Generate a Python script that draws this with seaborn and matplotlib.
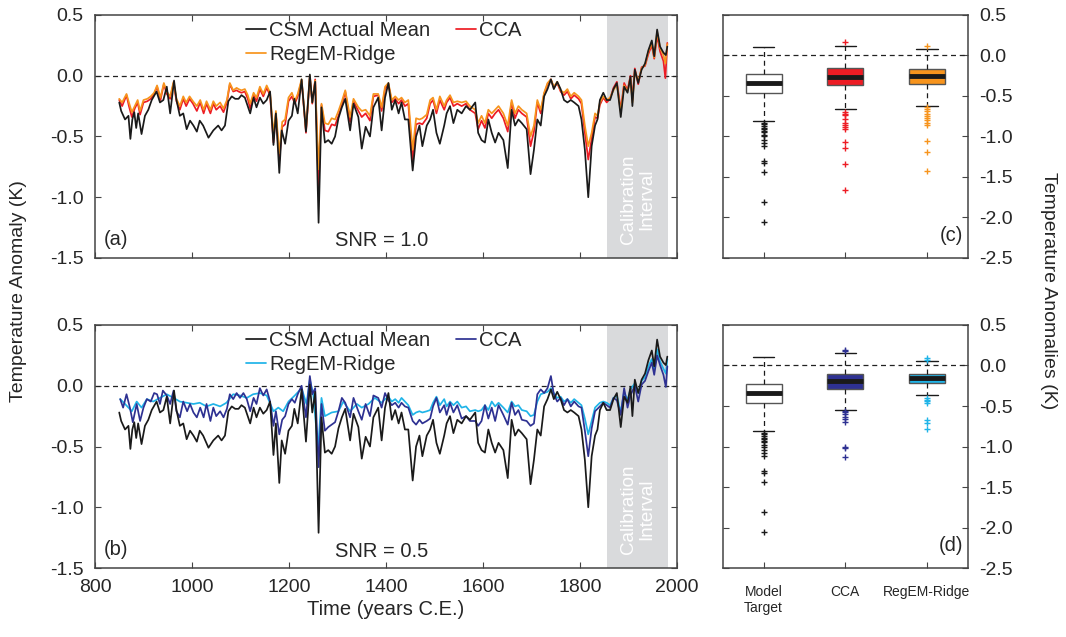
import numpy as np
import pandas as pd
import matplotlib
matplotlib.use("Agg")
import matplotlib.pyplot as plt
import seaborn as sns

# ---- time series ----
csm_years = [850, 854, 862, 869, 873, 877, 881, 885, 889, 896, 903, 910, 917, 927, 934, 941, 948, 955, 963, 968,
             975, 982, 989, 996, 1003, 1010, 1016, 1023, 1034, 1044, 1054, 1061, 1068, 1075, 1082, 1089, 1096, 1102,
             1109, 1120, 1127, 1133, 1140, 1147, 1154, 1161, 1168, 1173, 1180, 1185, 1192, 1199, 1206, 1211, 1218,
             1226, 1235, 1243, 1248, 1254, 1261, 1267, 1274, 1281, 1288, 1295, 1302, 1309, 1316, 1326, 1333, 1343,
             1350, 1358, 1367, 1374, 1384, 1391, 1398, 1405, 1412, 1419, 1426, 1432, 1439, 1446, 1455, 1462, 1469,
             1475, 1484, 1491, 1497, 1504, 1511, 1520, 1525, 1532, 1539, 1547, 1556, 1565, 1573, 1584, 1590, 1597,
             1604, 1611, 1618, 1625, 1632, 1642, 1651, 1659, 1666, 1673, 1680, 1690, 1698, 1705, 1712, 1719, 1726,
             1733, 1740, 1746, 1753, 1760, 1767, 1774, 1781, 1788, 1797, 1803, 1810, 1817, 1824, 1831, 1836, 1841,
             1848, 1855, 1862, 1869, 1876, 1884, 1891, 1898, 1904, 1908, 1913, 1920, 1927, 1934, 1941, 1948, 1953,
             1959, 1965, 1972, 1977, 1980]
csm_vals = [-0.22, -0.29, -0.36, -0.33, -0.52, -0.36, -0.30, -0.43, -0.31, -0.48, -0.33, -0.28, -0.20, -0.13, -0.22,
            -0.20, -0.09, -0.31, -0.04, -0.20, -0.33, -0.31, -0.44, -0.37, -0.41, -0.46, -0.37, -0.41, -0.51, -0.45,
            -0.41, -0.45, -0.41, -0.21, -0.17, -0.19, -0.19, -0.16, -0.18, -0.31, -0.18, -0.26, -0.18, -0.23, -0.20,
            -0.13, -0.57, -0.31, -0.80, -0.45, -0.56, -0.37, -0.33, -0.19, -0.31, -0.03, -0.46, 0.01, -0.22, -0.05,
            -1.21, -0.26, -0.55, -0.53, -0.56, -0.50, -0.35, -0.26, -0.19, -0.45, -0.23, -0.34, -0.60, -0.42, -0.50,
            -0.26, -0.18, -0.45, -0.18, -0.06, -0.28, -0.20, -0.31, -0.22, -0.36, -0.36, -0.78, -0.50, -0.41, -0.58,
            -0.41, -0.36, -0.28, -0.47, -0.56, -0.41, -0.31, -0.25, -0.39, -0.28, -0.31, -0.25, -0.28, -0.22, -0.47,
            -0.53, -0.55, -0.36, -0.47, -0.55, -0.47, -0.53, -0.76, -0.28, -0.41, -0.36, -0.39, -0.44, -0.81, -0.61,
            -0.36, -0.41, -0.17, -0.11, -0.03, -0.11, -0.05, -0.11, -0.20, -0.22, -0.20, -0.22, -0.25, -0.36, -0.61,
            -1.00, -0.58, -0.41, -0.36, -0.20, -0.14, -0.20, -0.20, -0.11, -0.06, -0.34, -0.09, -0.14, -0.01, -0.25,
            0.05, -0.06, 0.05, 0.10, 0.21, 0.29, 0.16, 0.38, 0.24, 0.19, 0.17, 0.24]

top_years = [850, 856, 865, 870, 876, 882, 888, 893, 900, 908, 915, 922, 928, 935, 942, 948, 955, 962, 968, 975,
             982, 988, 995, 1002, 1010, 1017, 1024, 1030, 1038, 1044, 1050, 1058, 1065, 1072, 1078, 1085, 1092,
             1096, 1102, 1109, 1115, 1120, 1127, 1133, 1140, 1147, 1154, 1161, 1168, 1173, 1180, 1186, 1192, 1199,
             1206, 1212, 1218, 1226, 1235, 1243, 1248, 1254, 1261, 1267, 1274, 1281, 1288, 1295, 1302, 1309, 1316,
             1326, 1333, 1343, 1350, 1358, 1367, 1374, 1384, 1391, 1398, 1405, 1412, 1419, 1426, 1432, 1439, 1446,
             1455, 1462, 1469, 1475, 1484, 1491, 1497, 1504, 1511, 1520, 1525, 1532, 1539, 1547, 1556, 1565, 1573,
             1584, 1590, 1597, 1604, 1611, 1618, 1625, 1632, 1642, 1651, 1659, 1666, 1673, 1680, 1690, 1698, 1705,
             1712, 1719, 1726, 1733, 1740, 1746, 1753, 1760, 1767, 1774, 1781, 1788, 1797, 1803, 1810, 1817, 1824,
             1831, 1836, 1841, 1848, 1855, 1862, 1869, 1876, 1884, 1891, 1898, 1904, 1908, 1913, 1920, 1927, 1934,
             1941, 1948, 1953, 1959, 1965, 1972, 1976, 1980]
cca1_vals = [-0.20, -0.25, -0.16, -0.25, -0.34, -0.27, -0.22, -0.32, -0.22, -0.21, -0.19, -0.15, -0.09, -0.20, -0.07,
             -0.15, -0.19, -0.06, -0.21, -0.28, -0.19, -0.25, -0.19, -0.23, -0.29, -0.22, -0.31, -0.23, -0.31, -0.23,
             -0.28, -0.25, -0.30, -0.22, -0.07, -0.13, -0.12, -0.13, -0.14, -0.13, -0.19, -0.27, -0.16, -0.21, -0.11,
             -0.17, -0.10, -0.16, -0.55, -0.31, -0.70, -0.42, -0.40, -0.21, -0.17, -0.23, -0.17, -0.04, -0.47, -0.01,
             -0.23, -0.03, -0.93, -0.24, -0.45, -0.46, -0.40, -0.41, -0.33, -0.24, -0.13, -0.38, -0.21, -0.29, -0.34,
             -0.31, -0.37, -0.17, -0.16, -0.29, -0.11, -0.07, -0.22, -0.19, -0.23, -0.20, -0.25, -0.23, -0.70, -0.40,
             -0.39, -0.40, -0.35, -0.23, -0.20, -0.31, -0.20, -0.28, -0.22, -0.18, -0.25, -0.23, -0.25, -0.23, -0.28,
             -0.31, -0.44, -0.37, -0.43, -0.31, -0.35, -0.31, -0.28, -0.35, -0.46, -0.22, -0.35, -0.28, -0.31, -0.34,
             -0.58, -0.46, -0.22, -0.31, -0.15, -0.07, -0.03, -0.10, -0.06, -0.13, -0.16, -0.13, -0.19, -0.16, -0.19,
             -0.23, -0.47, -0.69, -0.52, -0.34, -0.35, -0.24, -0.18, -0.22, -0.19, -0.10, -0.05, -0.28, -0.06, -0.12,
             0.00, -0.20, 0.06, -0.07, 0.07, 0.08, 0.18, 0.25, 0.14, 0.33, 0.20, 0.12, -0.02, 0.27]
ridge1_vals = [-0.19, -0.22, -0.15, -0.22, -0.30, -0.25, -0.20, -0.29, -0.20, -0.19, -0.17, -0.14, -0.08, -0.18, -0.06,
               -0.13, -0.17, -0.05, -0.19, -0.25, -0.17, -0.22, -0.17, -0.21, -0.25, -0.20, -0.28, -0.21, -0.28, -0.21,
               -0.25, -0.22, -0.27, -0.20, -0.06, -0.12, -0.10, -0.11, -0.12, -0.11, -0.16, -0.23, -0.14, -0.18, -0.09,
               -0.15, -0.08, -0.14, -0.48, -0.29, -0.64, -0.38, -0.36, -0.18, -0.14, -0.21, -0.15, -0.03, -0.45, 0.00,
               -0.22, -0.04, -0.77, -0.23, -0.39, -0.40, -0.35, -0.36, -0.29, -0.21, -0.12, -0.34, -0.19, -0.26, -0.29,
               -0.28, -0.33, -0.15, -0.15, -0.26, -0.09, -0.06, -0.20, -0.17, -0.20, -0.18, -0.22, -0.20, -0.61, -0.35,
               -0.36, -0.35, -0.32, -0.20, -0.18, -0.28, -0.17, -0.25, -0.20, -0.16, -0.22, -0.21, -0.22, -0.21, -0.25,
               -0.28, -0.39, -0.33, -0.39, -0.28, -0.31, -0.28, -0.25, -0.31, -0.41, -0.20, -0.31, -0.25, -0.28, -0.31,
               -0.50, -0.41, -0.20, -0.28, -0.14, -0.06, -0.03, -0.09, -0.05, -0.12, -0.14, -0.11, -0.17, -0.14, -0.17,
               -0.20, -0.41, -0.58, -0.47, -0.31, -0.33, -0.22, -0.17, -0.20, -0.18, -0.12, -0.07, -0.30, -0.08, -0.13,
               -0.02, -0.22, 0.04, -0.05, 0.06, 0.09, 0.20, 0.27, 0.15, 0.36, 0.23, 0.17, 0.10, 0.26]

cca2_years = [852, 858, 865, 872, 878, 886, 893, 900, 907, 915, 922, 928, 934, 940, 948, 955, 962, 968, 975, 982,
              990, 996, 1003, 1010, 1017, 1024, 1030, 1038, 1044, 1050, 1058, 1065, 1072, 1078, 1085, 1092, 1099,
              1106, 1113, 1120, 1127, 1133, 1140, 1147, 1154, 1161, 1168, 1173, 1180, 1186, 1192, 1199, 1206, 1212,
              1218, 1226, 1235, 1243, 1248, 1254, 1261, 1267, 1274, 1281, 1288, 1295, 1302, 1309, 1316, 1326, 1333,
              1343, 1350, 1358, 1367, 1374, 1384, 1391, 1398, 1405, 1412, 1419, 1426, 1432, 1439, 1446, 1455, 1462,
              1469, 1475, 1484, 1491, 1497, 1504, 1511, 1520, 1525, 1532, 1539, 1547, 1556, 1565, 1573, 1584, 1590,
              1597, 1604, 1611, 1618, 1625, 1632, 1642, 1651, 1659, 1666, 1673, 1680, 1690, 1698, 1705, 1712, 1719,
              1726, 1733, 1740, 1746, 1753, 1760, 1767, 1774, 1781, 1788, 1797, 1803, 1810, 1817, 1824, 1831, 1841,
              1848, 1855, 1862, 1869, 1876, 1884, 1891, 1898, 1904, 1913, 1920, 1927, 1934, 1941, 1948, 1953, 1959,
              1965, 1972, 1977, 1980]
cca2_vals = [-0.11, -0.18, -0.07, -0.18, -0.30, -0.15, -0.29, -0.18, -0.11, -0.13, -0.06, -0.07, -0.15, -0.04, -0.08,
             -0.15, -0.04, -0.21, -0.26, -0.13, -0.21, -0.15, -0.22, -0.26, -0.18, -0.26, -0.15, -0.29, -0.18, -0.25,
             -0.21, -0.26, -0.19, -0.07, -0.11, -0.06, -0.10, -0.06, -0.11, -0.21, -0.10, -0.15, -0.02, -0.08, -0.03,
             -0.13, -0.33, -0.21, -0.40, -0.28, -0.25, -0.15, -0.11, -0.14, -0.07, 0.00, -0.26, 0.08, -0.07, -0.02,
             -0.67, -0.15, -0.37, -0.34, -0.32, -0.30, -0.21, -0.10, -0.14, -0.26, -0.10, -0.21, -0.28, -0.15, -0.25,
             -0.08, -0.10, -0.18, -0.06, -0.12, -0.16, -0.14, -0.18, -0.14, -0.17, -0.18, -0.29, -0.32, -0.28, -0.31,
             -0.29, -0.27, -0.17, -0.10, -0.22, -0.16, -0.24, -0.14, -0.22, -0.16, -0.27, -0.25, -0.29, -0.29, -0.33,
             -0.29, -0.16, -0.27, -0.18, -0.29, -0.16, -0.24, -0.32, -0.14, -0.24, -0.20, -0.28, -0.29, -0.33, -0.31,
             -0.07, -0.03, -0.06, -0.02, 0.08, -0.07, -0.13, -0.10, -0.16, -0.11, -0.17, -0.13, -0.17, -0.18, -0.37,
             -0.58, -0.35, -0.21, -0.17, -0.14, -0.16, -0.18, -0.10, -0.12, -0.24, -0.02, -0.18, -0.08, 0.00, -0.13,
             0.01, 0.04, 0.12, 0.19, 0.09, 0.25, 0.17, 0.09, -0.01, 0.16]

ridge2_years = [852, 862, 876, 886, 896, 907, 920, 934, 948, 962, 975, 989, 1003, 1016, 1030, 1044, 1058, 1071,
                1085, 1099, 1113, 1126, 1140, 1154, 1168, 1178, 1188, 1199, 1212, 1226, 1236, 1243, 1250, 1260,
                1267, 1274, 1288, 1302, 1312, 1326, 1340, 1350, 1364, 1377, 1391, 1398, 1405, 1412, 1419, 1426,
                1432, 1439, 1446, 1455, 1462, 1469, 1475, 1484, 1491, 1497, 1504, 1511, 1520, 1525, 1532, 1539,
                1547, 1556, 1565, 1573, 1584, 1590, 1597, 1604, 1611, 1618, 1625, 1632, 1642, 1651, 1659, 1666,
                1673, 1680, 1690, 1698, 1705, 1712, 1719, 1726, 1733, 1740, 1746, 1753, 1760, 1767, 1774, 1781,
                1788, 1797, 1803, 1810, 1817, 1824, 1831, 1841, 1848, 1855, 1862, 1869, 1876, 1884, 1891, 1898,
                1904, 1913, 1920, 1927, 1934, 1941, 1948, 1953, 1959, 1965, 1972, 1977, 1980]
ridge2_vals = [-0.11, -0.15, -0.21, -0.13, -0.18, -0.11, -0.13, -0.10, -0.07, -0.10, -0.13, -0.14, -0.15, -0.14,
               -0.17, -0.15, -0.17, -0.14, -0.07, -0.08, -0.10, -0.07, -0.06, -0.08, -0.21, -0.18, -0.21, -0.13,
               -0.08, -0.02, -0.15, 0.05, -0.07, -0.52, -0.10, -0.25, -0.22, -0.21, -0.13, -0.21, -0.15, -0.18,
               -0.15, -0.10, -0.14, -0.11, -0.09, -0.13, -0.11, -0.14, -0.10, -0.13, -0.16, -0.24, -0.22, -0.21,
               -0.22, -0.21, -0.20, -0.14, -0.09, -0.16, -0.11, -0.17, -0.13, -0.16, -0.13, -0.18, -0.17, -0.21,
               -0.20, -0.21, -0.20, -0.16, -0.20, -0.13, -0.17, -0.14, -0.18, -0.22, -0.13, -0.17, -0.16, -0.20,
               -0.21, -0.25, -0.24, -0.13, -0.07, -0.06, -0.05, -0.02, -0.06, -0.10, -0.09, -0.13, -0.11, -0.14,
               -0.11, -0.14, -0.16, -0.27, -0.40, -0.29, -0.18, -0.14, -0.13, -0.14, -0.16, -0.10, -0.08, -0.22,
               -0.05, -0.12, -0.03, 0.02, -0.06, 0.04, 0.07, 0.16, 0.22, 0.13, 0.30, 0.20, 0.14, 0.10, 0.22]

box_names = ["Model\nTarget", "CCA", "RegEM-Ridge"]
target_box = dict(med=-0.345, q1=-0.465, q3=-0.23, whislo=-0.81, whishi=0.10,
                  fliers=[-0.83, -0.85, -0.87, -0.89, -0.91, -0.93, -0.95, -0.98, -1.00, -1.04, -1.08, -1.12,
                          -1.30, -1.33, -1.44, -1.81, -2.06])
cca1_box = dict(med=-0.26, q1=-0.37, q3=-0.155, whislo=-0.655, whishi=0.12,
                fliers=[0.17, -0.70, -0.72, -0.74, -0.78, -0.83, -0.86, -0.88, -0.91, -1.07, -1.14, -1.34, -1.66])
ridge1_box = dict(med=-0.25, q1=-0.35, q3=-0.17, whislo=-0.62, whishi=0.08,
                  fliers=[0.12, -0.64, -0.66, -0.69, -0.72, -0.75, -0.77, -0.80, -0.83, -0.86, -1.05, -1.19, -1.43])
cca2_box = dict(med=-0.19, q1=-0.285, q3=-0.10, whislo=-0.545, whishi=0.16,
                fliers=[0.18, 0.19, -0.56, -0.58, -0.60, -0.63, -0.66, -0.70, -1.00, -1.02, -1.13])
ridge2_box = dict(med=-0.155, q1=-0.21, q3=-0.10, whislo=-0.37, whishi=0.05,
                  fliers=[0.07, 0.09, -0.40, -0.42, -0.44, -0.46, -0.67, -0.71, -0.78])

BLACK = "#1a1a1a"
RED = "#ed1c24"
ORANGE = "#f7941d"
NAVY = "#2e3192"
CYAN = "#1fb4e8"
GREY_BAND = "#d9dadc"
FS = 14.5

sns.set_style("ticks")
plt.rcParams["font.family"] = ["Liberation Sans", "DejaVu Sans"]
plt.rcParams["axes.unicode_minus"] = False
plt.rcParams["axes.edgecolor"] = "#444444"

fig = plt.figure(figsize=(10.66, 6.37), dpi=100)
ax_a = fig.add_axes([0.0891, 0.595, 0.546, 0.3815])
ax_b = fig.add_axes([0.0891, 0.1083, 0.546, 0.3815])
ax_c = fig.add_axes([0.678, 0.595, 0.2298, 0.3815])
ax_d = fig.add_axes([0.678, 0.1083, 0.2298, 0.3815])


def ts_panel(ax, series, tag, snr, show_x):
    ax.axvspan(1856, 1981, color=GREY_BAND, lw=0, zorder=0)
    ax.axhline(0, color="#222222", ls=(0, (4, 3)), lw=0.9, zorder=1)
    for name, yrs, vals, col, z in series:
        sns.lineplot(x=yrs, y=vals, ax=ax, color=col, lw=1.25, zorder=z, label=name)
    h, l = ax.get_legend_handles_labels()
    order = [l.index(n) for n in ["CSM Actual Mean", "RegEM-Ridge", "CCA"]]
    ax.legend([h[i] for i in order], [l[i] for i in order], ncol=2, loc="upper left",
              bbox_to_anchor=(0.259, 0.975), frameon=False, fontsize=FS, handlelength=1.0,
              handletextpad=0.15, columnspacing=1.3, labelspacing=0.26, borderpad=0,
              borderaxespad=0)
    ax.set_xlim(800, 2000)
    ax.set_ylim(-1.5, 0.5)
    ax.set_xticks(range(800, 2001, 200))
    ax.set_yticks([-1.5, -1.0, -0.5, 0.0, 0.5])
    ax.set_yticklabels(["-1.5", "-1.0", "-0.5", "0.0", "0.5"])
    ax.tick_params(direction="in", top=True, right=True, labelsize=FS - 0.5, length=4,
                   color="#444444", pad=8)
    if not show_x:
        ax.set_xticklabels([])
    ax.set_xlabel("")
    ax.set_ylabel("")
    ax.text(1918, -1.02, "Calibration\nInterval", rotation=90, color="white", fontsize=FS - 1,
            ha="center", va="center", linespacing=1.1)
    ax.text(1390, -1.36, snr, fontsize=FS, ha="center", va="center")
    ax.text(819, -1.35, tag, fontsize=FS, ha="left", va="center")
    for s in ax.spines.values():
        s.set_linewidth(1.1)


ts_panel(ax_a, [("CCA", top_years, cca1_vals, RED, 2),
                ("RegEM-Ridge", top_years, ridge1_vals, ORANGE, 3),
                ("CSM Actual Mean", csm_years, csm_vals, BLACK, 4)], "(a)", "SNR = 1.0", False)
ts_panel(ax_b, [("RegEM-Ridge", ridge2_years, ridge2_vals, CYAN, 2),
                ("CCA", cca2_years, cca2_vals, NAVY, 3),
                ("CSM Actual Mean", csm_years, csm_vals, BLACK, 4)], "(b)", "SNR = 0.5", True)
ax_b.set_xlabel("Time (years C.E.)", fontsize=FS, labelpad=3)


def box_panel(ax, stats, colors, tag, show_x):
    ax.axhline(0, color="#222222", ls=(0, (4, 3)), lw=0.9, zorder=1)
    for i, (st, col) in enumerate(zip(stats, colors)):
        s = dict(st)
        s["label"] = box_names[i]
        ax.bxp([s], positions=[i + 1], widths=0.44, patch_artist=True, showfliers=True,
               boxprops=dict(facecolor=col, edgecolor="#555555", lw=1.0),
               medianprops=dict(color=BLACK, lw=3.5),
               whiskerprops=dict(color=BLACK, ls=(0, (4, 3)), lw=0.9),
               capprops=dict(color=BLACK, lw=1.0), capwidths=0.26,
               flierprops=dict(marker="+", markeredgecolor=(BLACK if col == "white" else col),
                               markersize=5, markeredgewidth=1.0, ls="none"))
    ax.set_xlim(0.5, 3.5)
    ax.set_ylim(-2.5, 0.5)
    ax.set_xticks([1, 2, 3])
    ax.set_yticks([-2.5, -2.0, -1.5, -1.0, -0.5, 0.0, 0.5])
    ax.set_yticklabels(["-2.5", "-2.0", "-1.5", "-1.0", "-0.5", "0.0", "0.5"])
    ax.tick_params(axis="y", direction="in", left=True, right=True, labelleft=False, labelright=True,
                   labelsize=FS - 0.5, length=4, color="#444444", pad=8)
    ax.tick_params(axis="x", direction="in", length=4, color="#444444")
    if show_x:
        ax.set_xticklabels(box_names, fontsize=10)
        ax.tick_params(axis="x", pad=12)
    else:
        ax.set_xticklabels([])
    ax.text(3.3, -2.22, tag, fontsize=FS, ha="center", va="center")
    for s in ax.spines.values():
        s.set_linewidth(1.1)


box_panel(ax_c, [target_box, cca1_box, ridge1_box], ["white", RED, ORANGE], "(c)", False)
box_panel(ax_d, [target_box, cca2_box, ridge2_box], ["white", NAVY, CYAN], "(d)", True)

fig.text(0.017, 0.543, "Temperature Anomaly (K)", rotation=90, fontsize=FS - 0.5, ha="center", va="center")
fig.text(0.984, 0.543, "Temperature Anomalies (K)", rotation=270, fontsize=FS - 0.5, ha="center", va="center")

fig.savefig("out.png", dpi=100)
